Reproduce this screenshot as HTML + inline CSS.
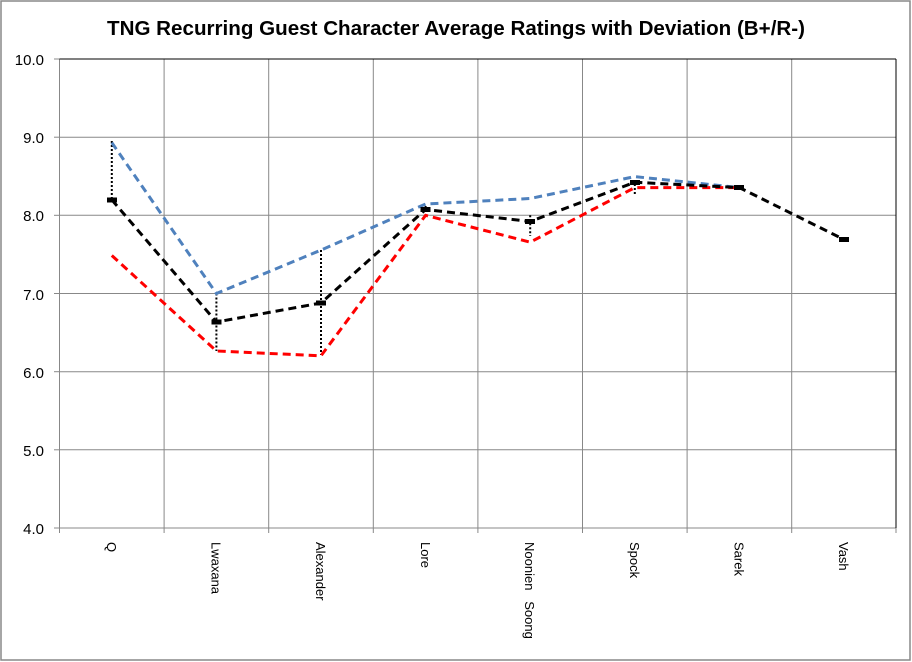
<!DOCTYPE html>
<html><head><style>body{margin:0;background:#fff}svg{display:block}</style></head><body>
<svg width="912" height="662" xmlns="http://www.w3.org/2000/svg" font-family="Liberation Sans, sans-serif">
<rect x="0" y="0" width="912" height="662" fill="#fff"/>
<rect x="1" y="1" width="909" height="659" fill="none" stroke="#888" stroke-width="1.5"/>
<text x="456" y="35" text-anchor="middle" font-size="20.5" font-weight="bold" textLength="698" lengthAdjust="spacingAndGlyphs">TNG Recurring Guest Character Average Ratings with Deviation (B+/R-)</text>
<g stroke="#888" stroke-width="1">
<line x1="59.5" y1="137.2" x2="896" y2="137.2"/><line x1="59.5" y1="215.3" x2="896" y2="215.3"/>
<line x1="59.5" y1="293.5" x2="896" y2="293.5"/><line x1="59.5" y1="371.7" x2="896" y2="371.7"/>
<line x1="59.5" y1="449.8" x2="896" y2="449.8"/><line x1="54" y1="528" x2="896" y2="528"/>
<line x1="59.5" y1="59" x2="59.5" y2="533"/><line x1="164.1" y1="59" x2="164.1" y2="533"/>
<line x1="268.7" y1="59" x2="268.7" y2="533"/><line x1="373.3" y1="59" x2="373.3" y2="533"/>
<line x1="477.9" y1="59" x2="477.9" y2="533"/><line x1="582.5" y1="59" x2="582.5" y2="533"/>
<line x1="687.1" y1="59" x2="687.1" y2="533"/><line x1="791.7" y1="59" x2="791.7" y2="533"/>
<line x1="896" y1="528" x2="896" y2="533"/>
<line x1="54" y1="59" x2="59.5" y2="59"/><line x1="54" y1="137.2" x2="59.5" y2="137.2"/><line x1="54" y1="215.3" x2="59.5" y2="215.3"/><line x1="54" y1="293.5" x2="59.5" y2="293.5"/><line x1="54" y1="371.7" x2="59.5" y2="371.7"/><line x1="54" y1="449.8" x2="59.5" y2="449.8"/>
</g>
<line x1="59.5" y1="59" x2="896" y2="59" stroke="#000" stroke-width="1"/>
<line x1="896" y1="59" x2="896" y2="528" stroke="#000" stroke-width="1"/>
<g font-size="15" text-anchor="end">
<text x="44" y="65">10.0</text><text x="44" y="143">9.0</text><text x="44" y="221">8.0</text><text x="44" y="300">7.0</text><text x="44" y="378">6.0</text><text x="44" y="456">5.0</text><text x="44" y="534">4.0</text>
</g>
<g font-size="13">
<text transform="translate(107,542) rotate(90)">Q</text>
<text transform="translate(211.5,542) rotate(90)">Lwaxana</text>
<text transform="translate(316,542) rotate(90)">Alexander</text>
<text transform="translate(421,542) rotate(90)">Lore</text>
<text transform="translate(525,542) rotate(90)" xml:space="preserve">Noonien   Soong</text>
<text transform="translate(630,542) rotate(90)">Spock</text>
<text transform="translate(734.5,542) rotate(90)">Sarek</text>
<text transform="translate(839,542) rotate(90)">Vash</text>
</g>
<g stroke="#000" stroke-width="2" stroke-dasharray="2,2">
<line x1="111.8" y1="141" x2="111.8" y2="199"/><line x1="216.4" y1="293.5" x2="216.4" y2="351"/>
<line x1="321" y1="250" x2="321" y2="355"/><line x1="530.2" y1="215.3" x2="530.2" y2="236"/>
<line x1="425.6" y1="206" x2="425.6" y2="215"/><line x1="634.8" y1="184" x2="634.8" y2="196"/>
</g>
<g fill="none" stroke-width="3" stroke-dasharray="8,5">
<polyline stroke="#4f81bd" points="111.8,142.6 216.4,293.5 321,250.1 425.6,204 530.2,198.5 634.8,176.6 739.4,187.6"/>
<polyline stroke="#f00" points="111.8,255.5 216.4,351 321,355.8 425.6,215.3 530.2,242.2 634.8,187.6 739.4,187.6"/>
<polyline stroke="#000" points="111.8,199.8 216.4,322 321,303 425.6,209.5 530.2,221.5 634.8,182.3 739.4,187.6 844,239.5"/>
</g>
<g fill="#000">
<rect x="107" y="197.5" width="10" height="5"/><rect x="211.5" y="319.5" width="10" height="5"/><rect x="316" y="300.5" width="10" height="5"/><rect x="420.5" y="207" width="10" height="5"/><rect x="525" y="219" width="10" height="5"/><rect x="630" y="180" width="10" height="5"/><rect x="734" y="185" width="10" height="5"/><rect x="839" y="237" width="10" height="5"/>
</g>
</svg>
</body></html>
